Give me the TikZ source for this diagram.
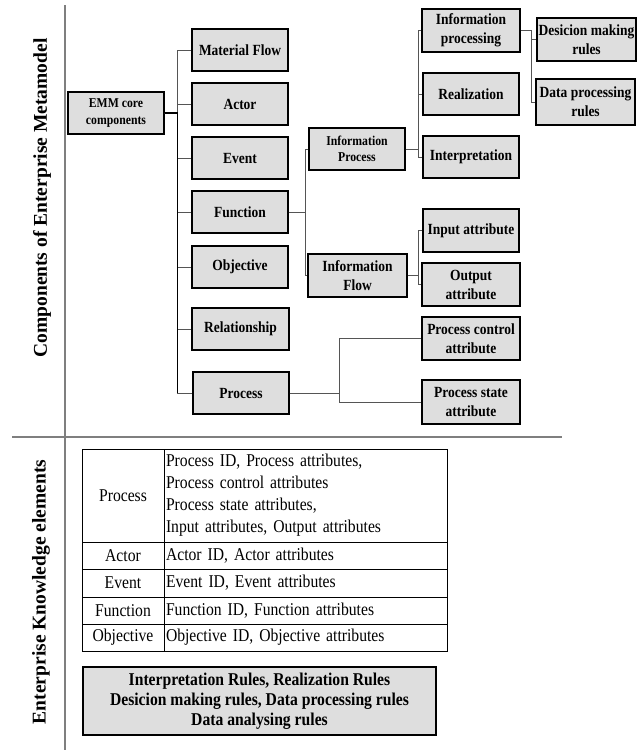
\documentclass[tikz,border=0pt]{standalone}
\usepackage{fontspec}
\setmainfont{Liberation Serif}
\newfontfamily\condfont{Liberation Serif}[FakeStretch=0.87]
\definecolor{emmFill}{HTML}{DEDEDE}
\definecolor{emmRule}{HTML}{7F7F7F}
\definecolor{emmLink}{HTML}{555555}
\usepackage{tikz}
\usetikzlibrary{positioning,calc}

\begin{document}
\begin{tikzpicture}[x=1pt, y=-1pt,
  box/.style={draw=black, line width=1.3pt, fill=emmFill, minimum width=96, minimum height=42, inner sep=1pt, align=center, font=\condfont\bfseries\fontsize{15.5}{19}\selectfont},
  smallbox/.style={box, font=\condfont\bfseries\fontsize{13.5}{16.5}\selectfont},
  link/.style={draw=emmLink, line width=1pt},
  trunkline/.style={draw=black, line width=1.5pt},
  divider/.style={draw=emmRule, line width=1.5pt},
  cell/.style={draw=black, line width=1pt, inner sep=2pt, font=\condfont\fontsize{18}{22}\selectfont},
  sidelabel/.style={rotate=90, font=\bfseries\fontsize{19.5}{22}\selectfont}]
\useasboundingbox (0,0) rectangle (641,750);

% section frame
\draw[divider] (65,5) -- (65,750);
\draw[divider] (12,437) -- (562,437);
\node[sidelabel] (cem) at (42,198) {Components of Enterprise Metamodel};
\node[sidelabel] (ekl) at (41,592) {Enterprise Knowledge elements};

% metamodel tree
\node[smallbox] (emm) at (116,113) {EMM core\\components};
\node[box] (mat) at (240,50) {Material Flow};
\node[box] (actor) at (240,104) {Actor};
\node[box] (event) at (240,158) {Event};
\node[box] (func) at (240,212) {Function};
\node[box] (obj) at (240,267) {Objective};
\node[box, minimum width=97] (rel) at (240.5,329) {Relationship};
\node[box] (proc) at (241,393) {Process};

\node[smallbox] (ipro) at (357,149) {Information\\Process};
\node[box, minimum width=99, minimum height=43] (iflow) at (357.5,275.5) {Information\\Flow};

\node[box, minimum width=98, minimum height=43] (iprc) at (471,30.5) {Information\\processing};
\node[box] (real) at (471,94) {Realization};
\node[box] (interp) at (471,157) {Interpretation};
\node[box, minimum height=43] (input) at (471,230.5) {Input attribute};
\node[box, minimum width=98, minimum height=43] (output) at (471,284.5) {Output\\attribute};
\node[box, minimum width=98, minimum height=43] (pctrl) at (471,338.5) {Process control\\attribute};
\node[box, minimum width=98, minimum height=44] (pstate) at (471,402) {Process state\\attribute};

\node[box, minimum width=99, minimum height=43] (dec) at (586.5,39.5) {Desicion making\\rules};
\node[box, minimum width=99, minimum height=46] (dproc) at (585.5,102) {Data processing\\rules};

\foreach \n in {mat,actor,event,func,obj,rel,proc}
  \draw[link] (emm.east) -- ++(13,0) |- (\n.west);
\draw[trunkline] (emm.east) -- ++(13,0) coordinate (tk) -- (tk |- proc.west);
\foreach \n in {ipro,iflow}
  \draw[link] (func.east) -- ++(17,0) |- (\n.west);
\foreach \n in {iprc,real,interp}
  \draw[link] (ipro.east) -- ++(13,0) |- (\n.west);
\foreach \n in {dec,dproc}
  \draw[link] (iprc.east) -- ++(11,0) |- (\n.west);
\foreach \n in {input,output}
  \draw[link] (iflow.east) -- ++(11,0) |- (\n.west);
\foreach \n in {pctrl,pstate}
  \draw[link] (proc.east) -- ++(50,0) |- (\n.west);

% knowledge elements table
\node[cell, minimum width=82, minimum height=93] (kp) at (123,495.5) {Process};
\node[cell, minimum width=283, minimum height=93, text width=279, align=left] (kpv) at (305.5,495.5) {Process ID, Process attributes,\\Process control attributes\\Process state attributes,\\Input attributes, Output attributes};
\node[cell, minimum width=82, minimum height=27] (ka) at (123,555.5) {Actor};
\node[cell, minimum width=283, minimum height=27, text width=279, align=left] (kav) at (305.5,555.5) {Actor ID, Actor attributes};
\node[cell, minimum width=82, minimum height=28] (ke) at (123,583) {Event};
\node[cell, minimum width=283, minimum height=28, text width=279, align=left] (kev) at (305.5,583) {Event ID, Event attributes};
\node[cell, minimum width=82, minimum height=27] (kf) at (123,610.5) {Function};
\node[cell, minimum width=283, minimum height=27, text width=279, align=left] (kfv) at (305.5,610.5) {Function ID, Function attributes};
\node[cell, minimum width=82, minimum height=27] (ko) at (123,637.5) {Objective};
\node[cell, minimum width=283, minimum height=27, text width=279, align=left] (kov) at (305.5,637.5) {Objective ID, Objective attributes};

\node[box, minimum width=353, minimum height=68, font=\condfont\bfseries\fontsize{18}{20}\selectfont] (rules) at (259.5,701) {Interpretation Rules, Realization Rules\\Desicion making rules, Data processing rules\\Data analysing rules};
\end{tikzpicture}
\end{document}
